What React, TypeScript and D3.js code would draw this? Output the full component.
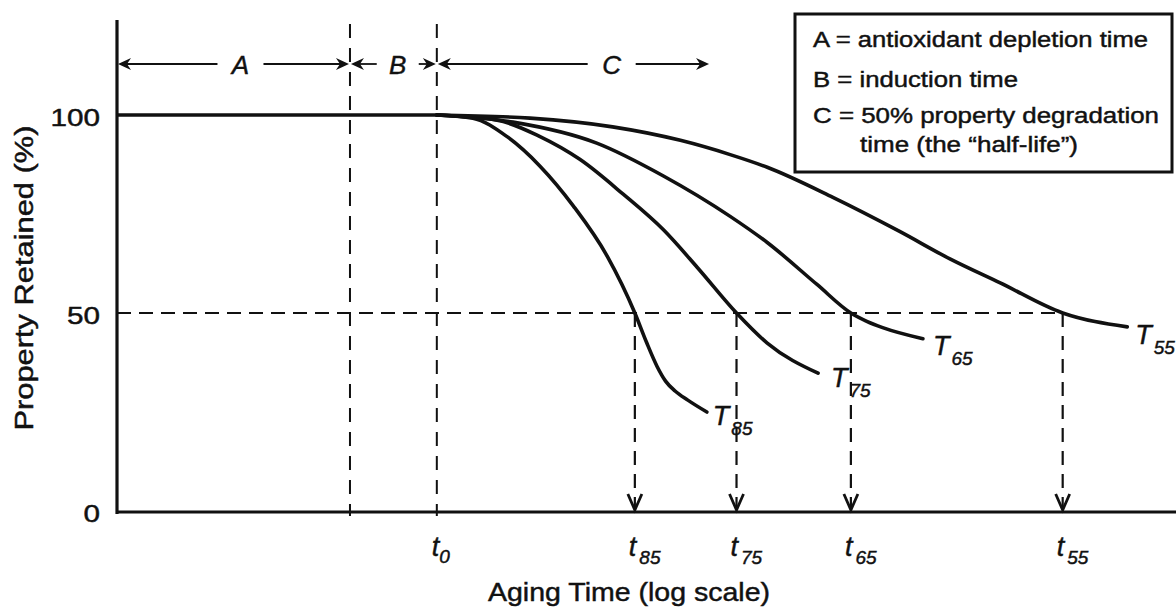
import React from 'react';
import * as d3 from 'd3';

// log-time units along the x axis, property retained (%) on y
const phaseBounds = [2.2, 3.02]; // end of A, t0
const cArrowEnd = 5.6;

const curveLabels = ['85', '75', '65', '55'];
const halfLifeTimes = [4.89, 5.85, 6.93, 8.93];

const t85Time = [3.02, 3.36, 3.68, 3.99, 4.31, 4.63, 4.89, 5.0, 5.1, 5.18, 5.27, 5.39, 5.57];
const t85Prop = [100, 99.2, 94.6, 87.2, 77.0, 64.3, 50, 42.6, 36.5, 32.8, 30.3, 28.0, 25.0];

const t75Time = [3.02, 3.59, 3.99, 4.37, 4.78, 5.16, 5.48, 5.85, 6.14, 6.62];
const t75Prop = [100, 98.7, 94.6, 88.8, 80.0, 71.0, 61.5, 50, 42.4, 34.8];

const t65Time = [3.02, 3.74, 4.53, 5.16, 5.79, 6.14, 6.61, 6.93, 7.08, 7.23, 7.61];
const t65Prop = [100, 98.2, 92.9, 84.6, 74.4, 67.8, 57.2, 50, 47.9, 46.3, 43.5];

const t55Time = [3.02, 3.9, 4.68, 5.32, 5.79, 6.14, 6.76, 7.39, 7.87, 8.34, 8.93, 9.54];
const t55Prop = [100, 99.2, 97.0, 93.6, 90.0, 86.8, 79.2, 70.6, 63.6, 57.6, 50, 46.5];

const yTicks = [0, 50, 100];

const legendLines = [
  'A = antioxidant depletion time',
  'B = induction time',
  'C = 50% property degradation',
  'time (the \u201chalf-life\u201d)',
];

const W = 1176;
const H = 608;
const FONT = '"Liberation Sans", Arial, Helvetica, sans-serif';
const INK = '#111';

// label placement next to each curve end (dx, dy)
const labelOffsets = [[6, 13], [13, 14], [10, 16], [8, 17]];

// filled barbed arrowhead, tip at (x, y), pointing along dir (+1 right, -1 left)
const hArrow = (x: number, y: number, dir: number) => {
  const l = 13, w = 6, n = 4;
  return `M${x},${y} L${x - dir * l},${y - w} L${x - dir * (l - n)},${y} L${x - dir * l},${y + w} Z`;
};

const textInk = { fill: INK, stroke: INK, strokeWidth: 0.45 };

const App: React.FC = () => {
  const x = d3.scaleLinear().domain([0, 10]).range([117, 1176]);
  const y = d3.scaleLinear().domain([0, 100]).range([511, 115]);

  const series = [
    { name: curveLabels[0], pts: t85Time.map((t, i) => [t, t85Prop[i]] as [number, number]) },
    { name: curveLabels[1], pts: t75Time.map((t, i) => [t, t75Prop[i]] as [number, number]) },
    { name: curveLabels[2], pts: t65Time.map((t, i) => [t, t65Prop[i]] as [number, number]) },
    { name: curveLabels[3], pts: t55Time.map((t, i) => [t, t55Prop[i]] as [number, number]) },
  ];

  const line = d3.line<[number, number]>()
    .x(d => x(d[0]))
    .y(d => y(d[1]))
    .curve(d3.curveMonotoneX);

  const axisY = y(0) + 1;
  const arrowY = 64;

  // dimension arrows A, B, C
  const dims = [
    { label: 'A', from: 0, to: phaseBounds[0], pos: 0.53, gap: 23 },
    { label: 'B', from: phaseBounds[0], to: phaseBounds[1], pos: 0.55, gap: 21 },
    { label: 'C', from: phaseBounds[1], to: cArrowEnd, pos: 0.64, gap: 24 },
  ];

  return (
    <svg width={W} height={H} style={{ position: 'absolute', left: 0, top: 0, background: '#fff' }}
      fontFamily={FONT}>
      {/* dashed phase boundaries */}
      {phaseBounds.map((t, i) => (
        <line key={'pb' + i} x1={x(t)} x2={x(t)} y1={24} y2={axisY + 4}
          stroke={INK} strokeWidth={2} strokeDasharray="14 10" />
      ))}

      {/* 50% reference line */}
      <line x1={x(0)} x2={x(halfLifeTimes[3])} y1={y(50)} y2={y(50)}
        stroke={INK} strokeWidth={2.2} strokeDasharray="14 8" />

      {/* half-life drop lines with arrowheads */}
      {halfLifeTimes.map((t, i) => (
        <g key={'hl' + i}>
          <line x1={x(t)} x2={x(t)} y1={y(50)} y2={axisY - 3}
            stroke={INK} strokeWidth={2.2} strokeDasharray="14 9" />
          <path d={`M${x(t) - 7},${axisY - 18} L${x(t)},${axisY - 2} L${x(t) + 7},${axisY - 18}`}
            fill="none" stroke={INK} strokeWidth={2.8} />
        </g>
      ))}

      {/* axes */}
      <line x1={x(0)} x2={x(0)} y1={20} y2={axisY + 2} stroke={INK} strokeWidth={3.2} />
      <line x1={x(0) - 1} x2={W} y1={axisY} y2={axisY} stroke={INK} strokeWidth={3.2} />

      {/* shared plateau */}
      <line x1={x(0)} x2={x(phaseBounds[1])} y1={y(100)} y2={y(100)} stroke={INK} strokeWidth={3.6} />

      {/* degradation curves */}
      {series.map((s, i) => {
        const last = s.pts[s.pts.length - 1];
        const [dx, dy] = labelOffsets[i];
        return (
          <g key={s.name}>
            <path d={line(s.pts) || ''} fill="none" stroke={INK} strokeWidth={3.6}
              strokeLinecap="round" strokeLinejoin="round" />
            <text x={x(last[0]) + dx} y={y(last[1]) + dy} fontSize={27} fontStyle="italic" {...textInk}>
              T<tspan fontSize={19} dy={10} dx={2}>{s.name}</tspan>
            </text>
          </g>
        );
      })}

      {/* dimension arrows */}
      {dims.map(d => {
        const x0 = x(d.from), x1 = x(d.to);
        const cx = x0 + (x1 - x0) * d.pos;
        return (
          <g key={d.label}>
            <line x1={x0 + 4} x2={cx - d.gap} y1={arrowY} y2={arrowY} stroke={INK} strokeWidth={1.8} />
            <line x1={cx + d.gap} x2={x1 - 4} y1={arrowY} y2={arrowY} stroke={INK} strokeWidth={1.8} />
            <path d={hArrow(x0 + 1, arrowY, -1)} fill={INK} />
            <path d={hArrow(x1 - 1, arrowY, 1)} fill={INK} />
            <text x={cx} y={arrowY + 10} textAnchor="middle" fontSize={26} fontStyle="italic" {...textInk}>
              {d.label}
            </text>
          </g>
        );
      })}

      {/* y tick labels */}
      {yTicks.map(v => (
        <text key={'yt' + v} x={100} y={y(v) + 11} textAnchor="end" fontSize={24} {...textInk}
          textLength={String(v).length * 16.5} lengthAdjust="spacingAndGlyphs">
          {v}
        </text>
      ))}

      {/* x tick labels: t0 and half-lives */}
      <text x={x(phaseBounds[1]) - 5} y={556} fontSize={27} fontStyle="italic" {...textInk}>
        t<tspan fontSize={19} dy={7}>0</tspan>
      </text>
      {halfLifeTimes.map((t, i) => (
        <text key={'xt' + i} x={x(t) - 6} y={556} fontSize={27} fontStyle="italic" {...textInk}>
          t<tspan fontSize={19} dy={8} dx={3}>{curveLabels[i]}</tspan>
        </text>
      ))}

      {/* axis titles */}
      <text x={488} y={601} fontSize={26} {...textInk} textLength={282} lengthAdjust="spacingAndGlyphs">
        Aging Time (log scale)
      </text>
      <text transform="translate(33,278) rotate(-90)" textAnchor="middle" fontSize={25} {...textInk}
        textLength={305} lengthAdjust="spacingAndGlyphs">
        Property Retained (%)
      </text>

      {/* legend box */}
      <rect x={795} y={14} width={377} height={158} fill="#fff" stroke={INK} strokeWidth={3} />
      <text x={813} y={47} fontSize={22} {...textInk} textLength={335} lengthAdjust="spacingAndGlyphs">{legendLines[0]}</text>
      <text x={813} y={87} fontSize={22} {...textInk} textLength={205} lengthAdjust="spacingAndGlyphs">{legendLines[1]}</text>
      <text x={813} y={123} fontSize={22} {...textInk} textLength={346} lengthAdjust="spacingAndGlyphs">{legendLines[2]}</text>
      <text x={860} y={152} fontSize={22} {...textInk} textLength={218} lengthAdjust="spacingAndGlyphs">{legendLines[3]}</text>
    </svg>
  );
};

export default App;
